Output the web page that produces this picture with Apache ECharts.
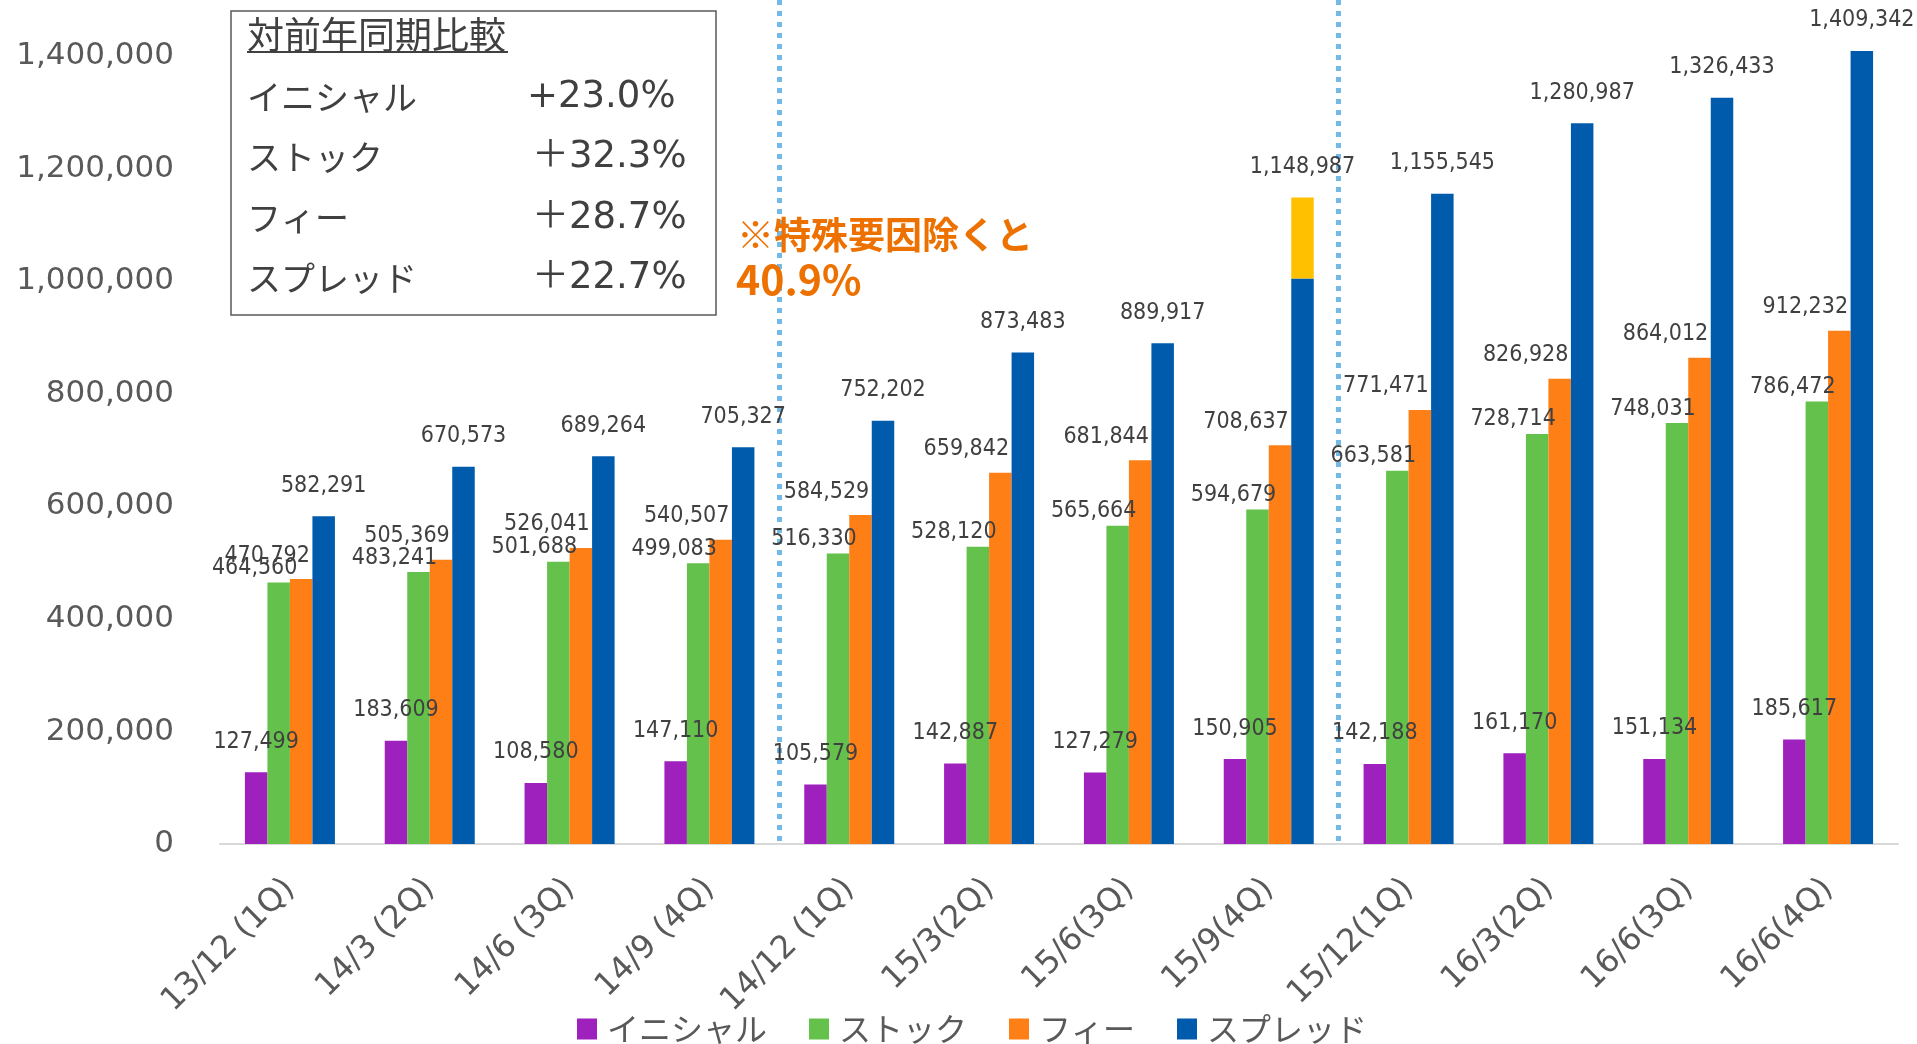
<!DOCTYPE html>
<html>
<head>
<meta charset="utf-8">
<script src="https://cdn.jsdelivr.net/npm/echarts@6/dist/echarts.min.js"></script>
<style>
html,body{margin:0;padding:0;background:#fff;}
#chart{width:1917px;height:1044px;}
</style>
</head>
<body>
<div id="chart"></div>
<script>
const categories = ['13/12 (1Q)','14/3 (2Q)','14/6 (3Q)','14/9 (4Q)','14/12 (1Q)','15/3(2Q)','15/6(3Q)','15/9(4Q)','15/12(1Q)','16/3(2Q)','16/6(3Q)','16/6(4Q)'];
const seriesNames = ['イニシャル','ストック','フィー','スプレッド'];
const initialValues = [127499,183609,108580,147110,105579,142887,127279,150905,142188,161170,151134,185617];
const stockValues = [464560,483241,501688,499083,516330,528120,565664,594679,663581,728714,748031,786472];
const feeValues = [470792,505369,526041,540507,584529,659842,681844,708637,771471,826928,864012,912232];
const spreadValues = [582291,670573,689264,705327,752202,873483,889917,1148987,1155545,1280987,1326433,1409342];
const specialIndex = 7;
const specialBase = 1005000;
const yTicks = [0,200000,400000,600000,800000,1000000,1200000,1400000];
const boxTitle = '対前年同期比較';
const boxRows = ['イニシャル','ストック','フィー','スプレッド'];
const boxValues = ['+23.0%','＋32.3%','＋28.7%','＋22.7%'];
const noteLines = ['※特殊要因除くと','40.9%'];

const colors = ['#9E21BE','#64C24C','#FF7F17','#005BAC'];
const yellow = '#FFC000';
const fmt = v => Number(v).toLocaleString('en-US');
const labelFont = "'DejaVu Sans Condensed','DejaVu Sans',sans-serif";
const jp = "'Noto Sans CJK JP',sans-serif";

const baseLabel = {
  show: true, position: 'top', distance: 19,
  fontFamily: labelFont, fontSize: 23, color: '#404040',
  formatter: p => fmt(p.value)
};

const spreadBase = spreadValues.map((v,i) => i === specialIndex ? {value: specialBase, label:{show:false}} : v);
const spreadExtra = spreadValues.map((v,i) => i === specialIndex ? v - specialBase : '-');

const chart = echarts.init(document.getElementById('chart'), null, {renderer:'canvas'});
const rowYs = [97, 157, 218, 278];
const graphics = [
  {type:'rect', shape:{x:231, y:11, width:485, height:304}, style:{fill:'#fff', stroke:'#595959', lineWidth:1.5}, z:100},
  {type:'text', x:247, y:35, style:{text:boxTitle, fontFamily:jp, fontSize:37, fill:'#404040', verticalAlign:'middle'}, z:101},
  {type:'line', shape:{x1:247, y1:52, x2:508, y2:52}, style:{stroke:'#404040', lineWidth:2}, z:101},
  {type:'text', x:737, y:235, style:{text:noteLines[0], fontFamily:jp, fontSize:37, fontWeight:'bold', fill:'#ED7100', verticalAlign:'middle'}, z:101},
  {type:'text', x:736, y:279, style:{text:noteLines[1], fontFamily:jp, fontSize:41, fontWeight:'bold', fill:'#ED7100', verticalAlign:'middle'}, z:101}
];
boxRows.forEach((r,i) => {
  graphics.push({type:'text', x:247, y:rowYs[i], style:{text:r, fontFamily:jp, fontSize:34, fill:'#404040', verticalAlign:'middle'}, z:101});
  graphics.push({type:'text', x:i===0?527:532, y:rowYs[i], style:{text:boxValues[i], fontFamily:"'DejaVu Sans','Noto Sans CJK JP',sans-serif", fontSize:37, fill:'#404040', verticalAlign:'middle'}, z:101});
});

chart.setOption({
  animation: false,
  backgroundColor: '#fff',
  grid: {left:220, right:19, top:-3, bottom:200, containLabel:false},
  legend: {
    data: seriesNames, left: 572, top: 1008, icon: 'rect', itemWidth: 20, itemHeight: 21, itemGap: 42,
    textStyle: {fontFamily: jp, fontSize: 32, color: '#595959', padding:[0,0,0,5]}
  },
  xAxis: {
    type: 'category', data: categories,
    axisLine: {show:true, lineStyle:{color:'#D9D9D9', width:2}},
    axisTick: {show:false},
    axisLabel: {interval:0, rotate:45, margin:40, fontFamily:"'DejaVu Sans',sans-serif", fontSize:32, color:'#595959'},
    splitLine: {show:true, showMaxLine:false, interval: (idx) => idx === 4 || idx === 8, lineStyle:{color:'#72BBE8', width:5, type:[5,6]}}
  },
  yAxis: {
    type: 'value', min: 0, max: 1500000, interval: 200000,
    axisLine: {show:false}, axisTick: {show:false}, splitLine: {show:false},
    axisLabel: {margin:46, fontFamily:"'DejaVu Sans',sans-serif", fontSize:31, color:'#595959', padding:[0,0,8,0],
      formatter: v => yTicks.indexOf(v) >= 0 ? fmt(v) : ''}
  },
  series: [
    {name: seriesNames[0], type:'bar', data: initialValues, barWidth: 22.5, barGap: '0%',
      itemStyle:{color:colors[0]}, label: baseLabel},
    {name: seriesNames[1], type:'bar', data: stockValues, barWidth: 22.5, barGap: '0%',
      itemStyle:{color:colors[1]}, label: Object.assign({}, baseLabel, {offset:[-24,16]})},
    {name: seriesNames[2], type:'bar', data: feeValues, barWidth: 22.5, barGap: '0%',
      itemStyle:{color:colors[2]}, label: Object.assign({}, baseLabel, {offset:[-34,7]})},
    {name: seriesNames[3], type:'bar', stack:'spread', data: spreadBase, barWidth: 22.5, barGap: '0%',
      itemStyle:{color:colors[3]}, label: baseLabel},
    {name: '特殊要因', type:'bar', stack:'spread', data: spreadExtra, barWidth: 22.5, barGap: '0%',
      itemStyle:{color:yellow}, label: Object.assign({}, baseLabel, {formatter: p => fmt(spreadValues[p.dataIndex])})}
  ],
  graphic: graphics
});
</script>
</body>
</html>
